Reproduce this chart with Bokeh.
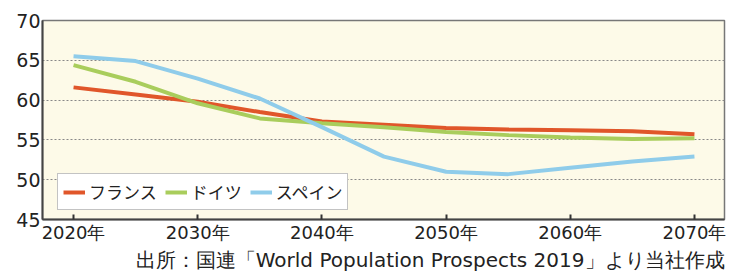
from bokeh.plotting import figure
from bokeh.models import FixedTicker, Title, Range1d
from bokeh.embed import file_html
from bokeh.resources import INLINE

years = [2020, 2025, 2030, 2035, 2040, 2045, 2050, 2055, 2060, 2065, 2070]
france = [61.6, 60.7, 59.8, 58.5, 57.3, 56.9, 56.5, 56.3, 56.2, 56.1, 55.7]
germany = [64.4, 62.3, 59.6, 57.7, 57.1, 56.6, 56.0, 55.6, 55.3, 55.1, 55.2]
spain = [65.5, 64.9, 62.7, 60.2, 56.6, 52.9, 51.0, 50.7, 51.5, 52.3, 52.9]
series_names = ["フランス", "ドイツ", "スペイン"]
x_ticks = [2020, 2030, 2040, 2050, 2060, 2070]
y_ticks = [45, 50, 55, 60, 65, 70]
source_text = "出所：国連「World Population Prospects 2019」より当社作成"

FONT = "DejaVu Sans"
JFONT = "Noto Sans CJK JP"

p = figure(width=729, height=271, output_backend="svg", toolbar_location=None,
           x_range=Range1d(2017.5, 2072.42), y_range=Range1d(45, 70),
           min_border_left=42, min_border_right=5, min_border_top=20, min_border_bottom=51)
p.background_fill_color = "#FDFAE8"
p.border_fill_color = "white"
p.outline_line_color = "#777777"
p.outline_line_width = 1.5

colors = ["#E0562A", "#A9CD5C", "#8FCCEA"]
for ys, name, c in zip([france, germany, spain], series_names, colors):
    p.line(years, ys, line_color=c, line_width=4, legend_label=name)

p.xgrid.visible = False
p.ygrid.ticker = FixedTicker(ticks=y_ticks)
p.ygrid.grid_line_color = "#888888"
p.ygrid.grid_line_dash = "2 2"
p.ygrid.grid_line_width = 1

p.xaxis.ticker = FixedTicker(ticks=x_ticks)
p.xaxis.major_label_overrides = {t: f"{t}年" for t in x_ticks}
p.xaxis.major_tick_in = 5
p.xaxis.major_tick_out = 0
p.xaxis.minor_tick_line_color = None
p.xaxis.major_tick_line_color = "#333333"
p.xaxis.major_tick_line_width = 2
p.xaxis.axis_line_color = "#444444"
p.xaxis.axis_line_width = 2
p.xaxis.major_label_text_font = FONT
p.xaxis.major_label_text_font_size = "18px"
p.xaxis.major_label_text_color = "#222222"
p.xaxis.major_label_standoff = 2

p.yaxis.ticker = FixedTicker(ticks=y_ticks)
p.yaxis.major_tick_in = 0
p.yaxis.major_tick_out = 0
p.yaxis.minor_tick_line_color = None
p.yaxis.axis_line_color = "#444444"
p.yaxis.axis_line_width = 2
p.yaxis.major_label_text_font = FONT
p.yaxis.major_label_text_font_size = "19px"
p.yaxis.major_label_text_color = "#222222"
p.yaxis.major_label_standoff = 2

p.legend.location = (15, 9)
p.legend.orientation = "horizontal"
p.legend.background_fill_color = "white"
p.legend.background_fill_alpha = 1
p.legend.border_line_color = "#888888"
p.legend.border_line_width = 1.5
p.legend.label_text_font = JFONT
p.legend.label_text_font_size = "17px"
p.legend.label_text_color = "#222222"
p.legend.glyph_width = 22
p.legend.glyph_height = 18
p.legend.label_standoff = 4
p.legend.spacing = 8
p.legend.padding = 5
p.legend.margin = 0
p.legend.label_height = 18

t = Title(text=source_text, align="right", text_font=FONT, text_font_size="20px",
          text_font_style="normal", text_color="#222222", standoff=0, offset=0)
p.add_layout(t, "below")

open("out.html", "w").write(file_html(p, INLINE))
